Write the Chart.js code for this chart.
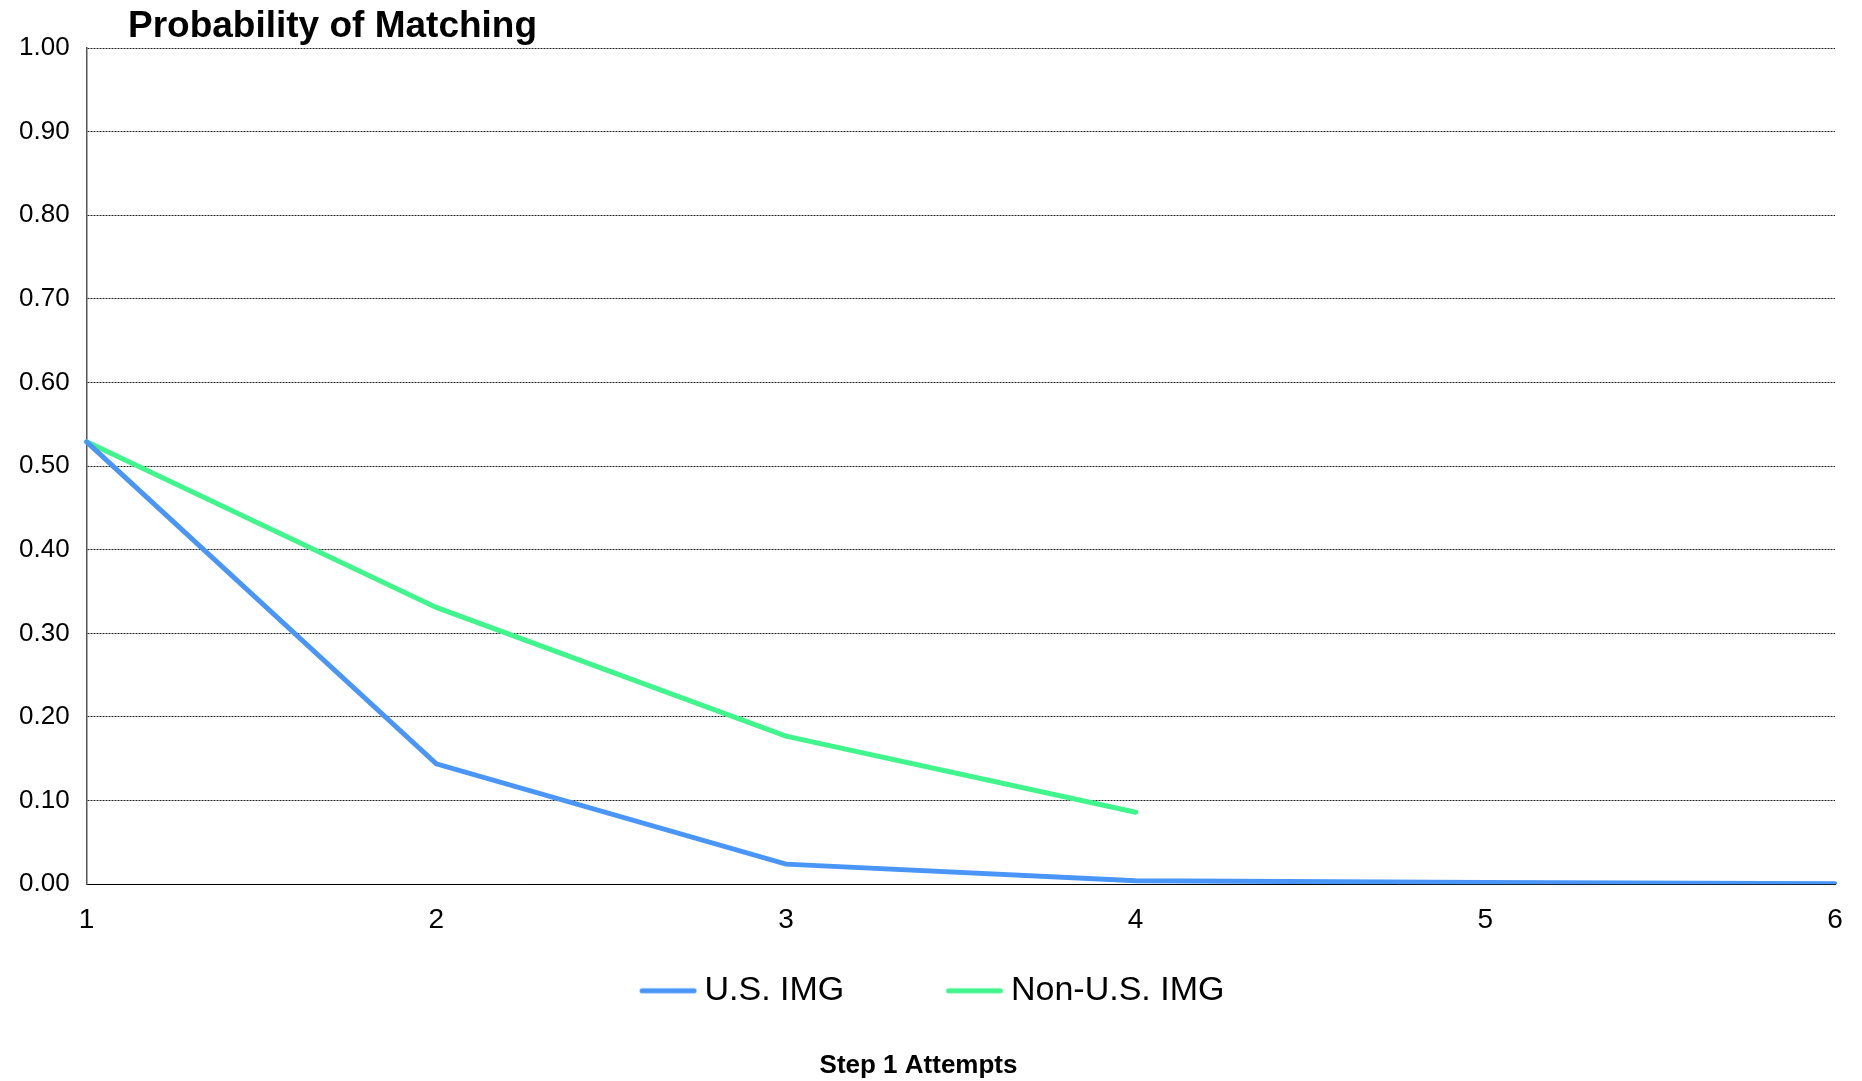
<!DOCTYPE html>
<html>
<head>
<meta charset="utf-8">
<title>Probability of Matching</title>
<script src="https://cdn.jsdelivr.net/npm/chart.js@4"></script>
<style>
    html, body { margin: 0; padding: 0; background: #fff; }
    #wrap { width: 1862px; height: 1081px; position: relative; }
</style>
</head>
<body>
<div id="wrap"><canvas id="chart"></canvas></div>
<script>
const attempts = ['1', '2', '3', '4', '5', '6'];
const usImg = [0.529, 0.144, 0.024, 0.004, 0.002, 0.0005];
const nonUsImg = [0.529, 0.331, 0.177, 0.086, null, null];
const seriesNames = ['U.S. IMG', 'Non-U.S. IMG'];
const chartTitle = 'Probability of Matching';
const xTitle = 'Step 1 Attempts';

const FONT = '"Liberation Sans", Arial, Helvetica, sans-serif';
const BLUE = '#4a96f8';
const GREEN = '#40f58b';

// title sits left, over the plot, not centred on it
const leftTitle = {
    id: 'leftTitle',
    afterDraw(chart) {
        const {ctx} = chart;
        ctx.save();
        ctx.font = 'bold 37px ' + FONT;
        ctx.fillStyle = '#000';
        ctx.textBaseline = 'alphabetic';
        ctx.textAlign = 'left';
        ctx.fillText(chartTitle, 128, 37);
        ctx.restore();
    }
};

// legend swatch: a short line pushed to the right of its box, closer to the text
function legendLine(color) {
    const c = document.createElement('canvas');
    c.width = 94;
    c.height = 8;
    const g = c.getContext('2d');
    g.strokeStyle = color;
    g.lineWidth = 5;
    g.lineCap = 'round';
    g.beginPath();
    g.moveTo(39, 4);
    g.lineTo(91, 4);
    g.stroke();
    return c;
}
const swatches = [legendLine(BLUE), legendLine(GREEN)];

new Chart(document.getElementById('chart'), {
    type: 'line',
    data: {
        labels: attempts,
        datasets: [{
            label: seriesNames[0],
            data: usImg,
            borderColor: BLUE,
            backgroundColor: BLUE,
            borderWidth: 5,
            borderCapStyle: 'round',
            pointRadius: 0,
            tension: 0
        }, {
            label: seriesNames[1],
            data: nonUsImg,
            borderColor: GREEN,
            backgroundColor: GREEN,
            borderWidth: 5,
            borderCapStyle: 'round',
            pointRadius: 0,
            tension: 0
        }]
    },
    options: {
        responsive: true,
        maintainAspectRatio: false,
        animation: false,
        layout: {
            padding: {left: 2, right: 27, top: 48, bottom: 0}
        },
        scales: {
            x: {
                grid: {display: false, drawTicks: false},
                border: {display: true, color: '#000', width: 1},
                ticks: {
                    color: '#000',
                    padding: 19,
                    font: {family: FONT, size: 28}
                }
            },
            y: {
                min: 0,
                max: 1,
                grid: {color: '#222', lineWidth: 1, drawTicks: false},
                border: {display: true, color: '#555', width: 1.5, dash: [2, 1]},
                ticks: {
                    stepSize: 0.1,
                    color: '#000',
                    padding: 17,
                    font: {family: FONT, size: 26},
                    callback: v => v.toFixed(2)
                }
            }
        },
        plugins: {
            legend: {
                position: 'bottom',
                labels: {
                    usePointStyle: true,
                    pointStyleWidth: 75,
                    padding: 18,
                    color: '#000',
                    font: {family: FONT, size: 34},
                    generateLabels(chart) {
                        const items = Chart.defaults.plugins.legend.labels.generateLabels(chart);
                        items.forEach((item, i) => { item.pointStyle = swatches[i]; });
                        // widen the gap after the first entry
                        items[0].text = items[0].text + '      ';
                        return items;
                    }
                }
            },
            subtitle: {
                display: true,
                position: 'bottom',
                text: xTitle,
                color: '#000',
                font: {family: FONT, size: 26, weight: 'bold'},
                padding: {top: 32, bottom: 0}
            },
            tooltip: {enabled: false}
        }
    },
    plugins: [leftTitle]
});
</script>
</body>
</html>
